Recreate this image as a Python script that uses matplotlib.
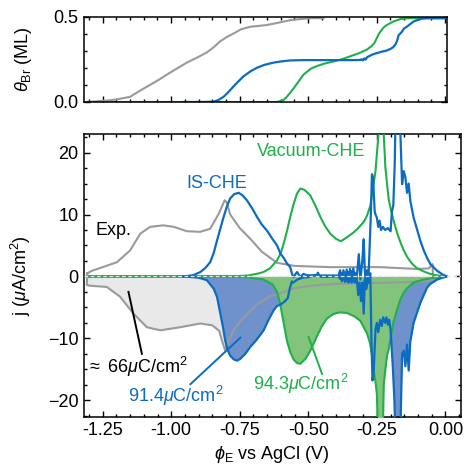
import matplotlib
matplotlib.use("Agg")
import matplotlib.pyplot as plt
from matplotlib.ticker import MultipleLocator, FormatStrFormatter

plt.rcParams['font.family'] = ['Liberation Sans', 'DejaVu Sans']
plt.rcParams['mathtext.fontset'] = 'custom'
plt.rcParams['mathtext.rm'] = 'Liberation Sans'
plt.rcParams['mathtext.it'] = 'Liberation Sans:italic'
plt.rcParams['font.size'] = 13

# colours
GRAY = '#9a9a9a'
BLUE = '#0b6cc1'
GREEN = '#1fb04a'

# --- coverage (top panel) ---
cov_exp_x = [-1.308, -1.27, -1.223, -1.19, -1.15, -1.115, -1.077, -1.045, -1.016, -0.98, -0.943,
             -0.905, -0.87, -0.845, -0.821, -0.797, -0.773, -0.745, -0.712, -0.68, -0.651, -0.62,
             -0.59, -0.56, -0.529, -0.49, -0.444]
cov_exp_y = [0.0, 0.004, 0.01, 0.018, 0.03, 0.065, 0.1, 0.13, 0.16, 0.195, 0.23,
             0.26, 0.29, 0.32, 0.355, 0.38, 0.40, 0.425, 0.44, 0.445, 0.45, 0.46,
             0.47, 0.48, 0.485, 0.49, 0.49]

cov_is_x = [-0.955, -0.88, -0.845, -0.827, -0.809, -0.79, -0.773, -0.755, -0.736, -0.71, -0.687,
            -0.66, -0.627, -0.6, -0.566, -0.52, -0.45, -0.38, -0.33, -0.31, -0.305, -0.3, -0.295,
            -0.29, -0.285, -0.275, -0.262, -0.249, -0.23, -0.215, -0.2, -0.19, -0.182, -0.176,
            -0.17, -0.164, -0.158, -0.15, -0.14, -0.128, -0.116, -0.1, -0.085, -0.067, -0.04, 0.0]
cov_is_y = [0.0, 0.0, 0.002, 0.012, 0.03, 0.06, 0.09, 0.12, 0.15, 0.18, 0.2,
            0.217, 0.23, 0.237, 0.243, 0.245, 0.245, 0.245, 0.245, 0.246, 0.25, 0.243, 0.255,
            0.248, 0.262, 0.27, 0.28, 0.286, 0.295, 0.30, 0.31, 0.32, 0.335, 0.355,
            0.39, 0.40, 0.41, 0.43, 0.44, 0.455, 0.47, 0.48, 0.487, 0.49, 0.49, 0.49]

cov_vac_x = [-1.30, -0.62, -0.608, -0.59, -0.578, -0.565, -0.553, -0.535, -0.517, -0.49, -0.468,
             -0.44, -0.407, -0.377, -0.347, -0.315, -0.286, -0.27, -0.258, -0.249, -0.243, -0.237,
             -0.225, -0.213, -0.19, -0.164, -0.13, -0.1, 0.0]
cov_vac_y = [0.0, 0.0, 0.002, 0.012, 0.03, 0.055, 0.08, 0.12, 0.16, 0.195, 0.21,
             0.225, 0.237, 0.25, 0.267, 0.285, 0.306, 0.325, 0.345, 0.375, 0.395, 0.41,
             0.435, 0.45, 0.47, 0.485, 0.49, 0.49, 0.49]

# --- current density (bottom panel) ---
# experiment, anodic sweep
exp_up_x = [-1.306, -1.29, -1.25, -1.198, -1.15, -1.113, -1.077, -1.029, -0.99, -0.943, -0.894,
            -0.858, -0.827, -0.805, -0.798, -0.785, -0.75, -0.71, -0.67, -0.614, -0.55, -0.42,
            -0.237, -0.103, -0.06, -0.047]
exp_up_y = [0.5, 0.9, 1.5, 2.3, 4.2, 6.9, 8.0, 8.25, 8.0, 7.3, 7.2,
            7.7, 10.1, 12.3, 12.0, 10.0, 7.8, 6.0, 4.0, 2.2, 1.7, 1.5,
            1.5, 1.2, 1.3, 2.0]
# experiment, cathodic sweep
exp_dn_x = [-0.045, -0.07, -0.2, -0.4, -0.49, -0.55, -0.6, -0.64, -0.69, -0.74, -0.77, -0.79,
            -0.803, -0.812, -0.825, -0.85, -0.894, -0.967, -1.04, -1.089, -1.138, -1.186, -1.235,
            -1.296, -1.308, -1.306]
exp_dn_y = [-0.5, -0.8, -1.0, -1.2, -1.5, -1.9, -2.7, -3.2, -4.6, -6.8, -8.5, -10.3,
            -12.0, -10.8, -8.8, -7.9, -7.6, -8.2, -8.7, -8.2, -6.0, -3.3, -1.7,
            -1.5, -1.4, 0.5]

# IS-CHE, anodic sweep
is_up_x = [-0.955, -0.92, -0.894, -0.875, -0.858, -0.845, -0.833, -0.821, -0.809, -0.797, -0.785,
           -0.77, -0.754, -0.74, -0.724, -0.705, -0.687, -0.67, -0.651, -0.63, -0.614, -0.602,
           -0.59, -0.578, -0.566, -0.56, -0.555, -0.541, -0.529, -0.518, -0.505, -0.47, -0.465,
           -0.46, -0.39, -0.384, -0.378, -0.372, -0.366, -0.36, -0.354, -0.348, -0.342, -0.336,
           -0.33, -0.322, -0.316, -0.31, -0.303, -0.298, -0.294, -0.288, -0.28, -0.272, -0.268,
           -0.264, -0.258, -0.255, -0.25, -0.245, -0.24, -0.235, -0.228, -0.22, -0.21, -0.2,
           -0.195, -0.19, -0.185, -0.18, -0.17, -0.165, -0.158, -0.152, -0.146, -0.14, -0.134,
           -0.128, -0.116, -0.103, -0.091, -0.079, -0.067, -0.055, -0.03, -0.01, 0.006]
is_up_y = [0.0, 0.2, 0.7, 1.4, 2.3, 3.8, 5.8, 7.7, 9.6, 11.3, 12.6,
           13.3, 13.5, 13.1, 12.3, 11.0, 9.6, 8.4, 7.4, 6.0, 5.0, 3.7,
           3.0, 2.1, 1.5, 0.5, -0.1, 0.7, -0.1, 0.4, 0.2, 0.15, 0.6,
           0.15, 0.15, 1.0, -0.8, 1.0, -0.9, 1.1, -1.0, 1.2, -1.0, 1.3,
           -1.0, 0.5, 3.6, -0.5, 2.5, 6.0, 1.0, -2.0, 0.5, 10.0, 16.5,
           16.0, 10.5, 10.0, 9.5, 8.0, 9.0, 7.5, 8.0, 7.5, 7.8, 7.3,
           10.5, 11.5, 18.0, 30.0, 30.0, 24.0, 14.9, 17.0, 16.0, 13.5, 15.0,
           12.2, 9.5, 7.5, 5.7, 4.2, 3.0, 2.0, 0.9, 0.3, 0.0]
# IS-CHE, cathodic sweep
is_dn_x = [0.006, -0.01, -0.03, -0.055, -0.067, -0.079, -0.091, -0.103, -0.116, -0.128, -0.134,
           -0.14, -0.146, -0.152, -0.158, -0.162, -0.166, -0.18, -0.186, -0.192, -0.2, -0.205,
           -0.21, -0.215, -0.22, -0.227, -0.232, -0.238, -0.245, -0.25, -0.255, -0.262, -0.266,
           -0.27, -0.274, -0.28, -0.286, -0.29, -0.294, -0.298, -0.303, -0.308, -0.313, -0.318,
           -0.323, -0.33, -0.336, -0.342, -0.348, -0.354, -0.36, -0.366, -0.372, -0.378, -0.384,
           -0.39, -0.45, -0.47, -0.5, -0.52, -0.54, -0.555, -0.56, -0.568, -0.575, -0.585, -0.6,
           -0.615, -0.627, -0.645, -0.663, -0.69, -0.712, -0.73, -0.748, -0.76, -0.772, -0.785,
           -0.795, -0.803, -0.812, -0.821, -0.833, -0.845, -0.87, -0.9, -0.955]
is_dn_y = [0.0, -0.2, -0.5, -1.2, -1.8, -3.0, -4.2, -5.8, -7.5, -10.5, -15.2,
           -11.0, -14.5, -12.0, -12.5, -20.6, -30.0, -30.0, -20.0, -14.5, -8.7, -7.0,
           -7.8, -6.6, -7.5, -6.6, -8.0, -7.0, -9.0, -7.5, -8.5, -15.7, -16.8,
           -10.0, 0.5, -1.0, 1.0, -2.0, -0.5, -6.0, -1.0, -4.0, -1.0, -3.0,
           -0.5, 0.6, -0.8, 0.8, -0.8, 0.7, -0.7, 0.6, -0.6, 0.5, -0.4,
           0.0, -0.1, 0.2, -0.1, -0.2, -0.5, -1.0, -0.8, -2.0, -3.5, -4.0, -4.5,
           -4.8, -5.5, -7.0, -8.7, -10.3, -11.4, -12.5, -13.3, -13.6, -13.4, -12.8,
           -11.8, -10.4, -8.0, -6.0, -3.3, -2.0, -0.6, -0.2, 0.0]

# Vacuum-CHE, anodic sweep
vac_up_x = [-1.30, -0.78, -0.72, -0.68, -0.664, -0.64, -0.614, -0.6, -0.59, -0.578, -0.566,
            -0.553, -0.541, -0.529, -0.515, -0.505, -0.493, -0.475, -0.456, -0.44, -0.42, -0.4,
            -0.383, -0.377, -0.36, -0.335, -0.318, -0.298, -0.286, -0.274, -0.262, -0.255, -0.249,
            -0.243, -0.235, -0.228, -0.225, -0.219, -0.213, -0.207, -0.198, -0.189, -0.176, -0.164,
            -0.152, -0.14, -0.128, -0.116, -0.103, -0.079, -0.055, -0.03, 0.006]
vac_up_y = [0.0, 0.0, 0.15, 0.5, 0.7, 1.3, 2.6, 3.8, 5.3, 7.3, 9.6,
            11.8, 13.4, 14.2, 14.0, 13.6, 13.1, 11.5, 9.6, 8.2, 6.9, 6.1,
            5.7, 5.8, 6.3, 7.1, 7.8, 8.8, 9.8, 11.4, 14.9, 17.0, 20.3,
            23.5, 30.0, 30.0, 23.0, 17.6, 15.0, 12.5, 10.6, 9.0, 7.0, 5.5,
            4.2, 3.2, 2.4, 1.8, 1.3, 0.8, 0.4, 0.15, 0.0]
# Vacuum-CHE, cathodic sweep
vac_dn_x = [0.006, -0.02, -0.055, -0.079, -0.103, -0.116, -0.14, -0.152, -0.164, -0.176, -0.189,
            -0.195, -0.207, -0.213, -0.219, -0.225, -0.23, -0.243, -0.25, -0.255, -0.262, -0.268,
            -0.275, -0.286, -0.298, -0.31, -0.33, -0.359, -0.383, -0.395, -0.41, -0.432, -0.45,
            -0.468, -0.48, -0.493, -0.51, -0.529, -0.541, -0.554, -0.566, -0.578, -0.59, -0.602,
            -0.614, -0.63, -0.664, -0.72, -0.78, -1.30]
vac_dn_y = [0.0, -0.1, -0.3, -0.5, -0.8, -1.0, -1.9, -2.6, -3.7, -5.3, -7.3,
            -8.7, -11.8, -12.8, -15.0, -17.5, -30.0, -30.0, -19.0, -17.0, -15.2, -12.7,
            -10.8, -9.2, -8.2, -7.2, -6.5, -5.9, -5.8, -5.9, -6.1, -6.8, -8.0,
            -9.6, -10.8, -12.0, -13.3, -14.1, -14.0, -13.4, -12.2, -10.4, -7.5, -4.6,
            -2.5, -1.3, -0.5, -0.15, 0.0, 0.0]

fig = plt.figure(figsize=(4.66, 4.67), dpi=100)
ax_top = fig.add_axes([83.5 / 466, 1 - 102 / 467, 363 / 466, 85.5 / 467])
ax = fig.add_axes([83.5 / 466, 1 - 417 / 467, 377 / 466, 283 / 467])

for a in (ax_top, ax):
    a.tick_params(which='both', direction='in', top=True, right=True, width=1, labelsize=13)
    a.tick_params(which='major', length=4.5)
    a.tick_params(which='minor', length=2.5)
    for s in a.spines.values():
        s.set_linewidth(1.1)
    a.xaxis.set_major_locator(MultipleLocator(0.25))
    a.xaxis.set_minor_locator(MultipleLocator(0.05))

# top panel
ax_top.plot(cov_exp_x, cov_exp_y, color=GRAY, lw=1.5)
ax_top.plot(cov_vac_x, cov_vac_y, color=GREEN, lw=1.5)
ax_top.plot(cov_is_x, cov_is_y, color=BLUE, lw=1.6)
ax_top.set_xlim(-1.32, 0.005)
ax_top.set_ylim(0, 0.5)
ax_top.yaxis.set_major_locator(MultipleLocator(0.5))
ax_top.yaxis.set_minor_locator(MultipleLocator(0.1))
ax_top.yaxis.set_major_formatter(FormatStrFormatter('%.1f'))
ax_top.tick_params(labelbottom=False)
ax_top.set_ylabel(r'$\theta_{\mathrm{Br}}$ (ML)')
ax_top.yaxis.set_label_coords(-0.135, 0.5)

# bottom panel: shaded charges
ax.fill_between(exp_dn_x, exp_dn_y, 0, color='#e9e9e9', lw=0, zorder=1)
ax.fill_between(is_dn_x, is_dn_y, 0, color='#7092cc', lw=0, zorder=2)
ax.fill_between(vac_dn_x, vac_dn_y, 0, color='#82c47c', lw=0, zorder=3)

ax.plot(exp_up_x + exp_dn_x, exp_up_y + exp_dn_y, color=GRAY, lw=1.5, zorder=4)
ax.plot(vac_up_x + vac_dn_x, vac_up_y + vac_dn_y, color=GREEN, lw=1.5, zorder=5)
ax.plot(is_up_x + is_dn_x, is_up_y + is_dn_y, color=BLUE, lw=1.6, zorder=6)
ax.axhline(0, color='#e2e2e2', lw=0.9, ls=(0, (3, 2)), zorder=7)

ax.text(-1.277, 7.4, 'Exp.', ha='left', va='center', fontsize=13)
ax.text(-0.833, 15.0, 'IS-CHE', ha='center', va='center', color=BLUE, fontsize=13)
ax.text(-0.49, 20.1, 'Vacuum-CHE', ha='center', va='center', color=GREEN, fontsize=13)

ax.text(-1.308, -15.6, r'$\approx$ 66$\mu$C/cm$^2$', ha='left', va='baseline', fontsize=13)
ax.plot([-1.107, -1.156], [-12.5, -2.5], color='black', lw=1.4, zorder=8)
ax.text(-1.156, -20.3, r'91.4$\mu$C/cm$^2$', ha='left', va='baseline', color=BLUE, fontsize=13)
ax.plot([-0.93, -0.748], [-17.4, -9.9], color=BLUE, lw=1.4, zorder=8)
ax.text(-0.70, -18.4, r'94.3$\mu$C/cm$^2$', ha='left', va='baseline', color=GREEN, fontsize=13)
ax.plot([-0.45, -0.499], [-15.75, -9.8], color=GREEN, lw=1.4, zorder=8)

ax.set_xlim(-1.32, 0.055)
ax.set_ylim(-22.7, 23.0)
ax.yaxis.set_major_locator(MultipleLocator(10))
ax.yaxis.set_minor_locator(MultipleLocator(2.5))
ax.xaxis.set_major_formatter(FormatStrFormatter('%.2f'))
ax.set_xlabel(r'$\phi_{\mathrm{E}}$ vs AgCl (V)')
ax.set_ylabel(r'j ($\mu$A/cm$^2$)')
ax.yaxis.set_label_coords(-0.135, 0.5)

fig.savefig('out.png', dpi=100)
